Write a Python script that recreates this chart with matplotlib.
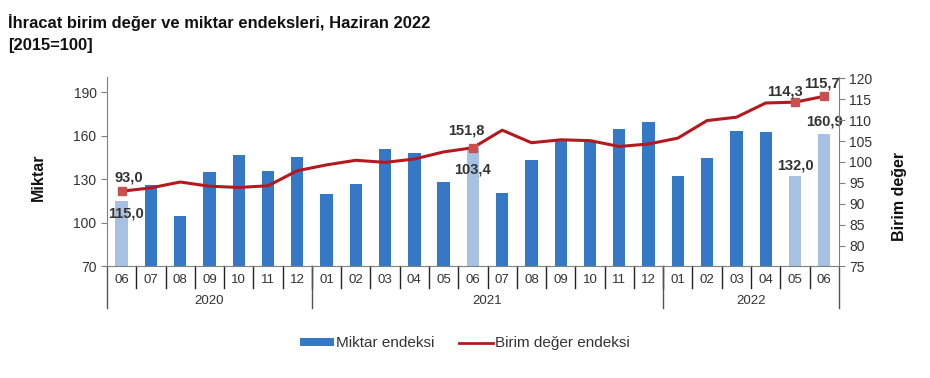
import numpy as np
import matplotlib
matplotlib.use("Agg")
import matplotlib.pyplot as plt
from matplotlib.patches import Patch
from matplotlib.lines import Line2D
import matplotlib.transforms as mtransforms

plt.rcParams['font.family'] = ['Liberation Sans', 'DejaVu Sans']

# data
months = ["06", "07", "08", "09", "10", "11", "12",
          "01", "02", "03", "04", "05", "06", "07", "08", "09", "10", "11", "12",
          "01", "02", "03", "04", "05", "06"]
years = ["2020"] * 7 + ["2021"] * 12 + ["2022"] * 6
miktar = [115.0, 126.2, 104.5, 135.0, 146.8, 135.8, 145.2,
          120.0, 126.7, 150.7, 148.4, 128.3, 151.8, 120.7, 143.2, 157.6, 156.4, 164.4, 169.7,
          131.9, 144.5, 163.0, 162.6, 132.0, 160.9]
birim_deger = [93.0, 93.8, 95.2, 94.2, 93.9, 94.3, 97.9,
               99.3, 100.4, 99.9, 100.7, 102.4, 103.4, 107.6, 104.6, 105.3, 105.1, 103.7, 104.3,
               105.7, 109.9, 110.7, 114.1, 114.3, 115.7]
highlight = [0, 12, 23, 24]

DARK_BLUE = "#3579C6"
LIGHT_BLUE = "#A7C1E5"
LINE_RED = "#B3191F"
MARK_RED = "#C8504F"
TXT = "#333333"

x = np.arange(len(months))
bar_colors = [LIGHT_BLUE if i in highlight else DARK_BLUE for i in x]

fig = plt.figure(figsize=(9.3, 3.78), dpi=100)
ax = fig.add_axes([0.115, 0.295, 0.787, 0.5])
ax2 = ax.twinx()

ax.bar(x, miktar, width=0.42, color=bar_colors, zorder=2)
ax2.plot(x, birim_deger, color=LINE_RED, lw=2.2, zorder=3)
ax2.plot(x[highlight], np.array(birim_deger)[highlight], 's',
         color=MARK_RED, ms=6, zorder=4)

ax.set_xlim(-0.5, len(months) - 0.5)
ax.set_ylim(70, 200)
ax.set_yticks([70, 100, 130, 160, 190])
ax2.set_ylim(75, 120.2)
ax2.set_yticks(range(75, 121, 5))

ax.set_zorder(1)
ax2.set_zorder(2)
ax.patch.set_visible(False)

for a in (ax, ax2):
    a.spines['top'].set_visible(False)
    for s in a.spines.values():
        s.set_color("#808080")
    a.tick_params(axis='y', colors="#808080", labelcolor=TXT, labelsize=10, length=4)
ax.spines['right'].set_visible(False)
ax2.spines['left'].set_visible(False)
ax2.spines['bottom'].set_visible(False)

ax.set_xticks([])
ax.set_xticklabels([])

# category axis: months + years with separators
trans = mtransforms.blended_transform_factory(ax.transData, ax.transAxes)
for i, m in enumerate(months):
    ax.text(i, -0.07, m, transform=trans, ha='center', va='center', fontsize=9.5, color=TXT)
for b in np.arange(0.5, len(months) - 1, 1.0):
    ax.plot([b, b], [0, -0.115], transform=trans, color="#222222", lw=1, clip_on=False)

year_list = ["2020", "2021", "2022"]
for yr in year_list:
    idx = [i for i, y in enumerate(years) if y == yr]
    ax.text(np.mean(idx), -0.18, yr, transform=trans, ha='center', va='center',
            fontsize=9.5, color=TXT)
bounds = [-0.5] + [i - 0.5 for i in range(1, len(years)) if years[i] != years[i - 1]] + [len(years) - 0.5]
for b in bounds:
    ax.plot([b, b], [0, -0.22], transform=trans, color="#555555", lw=1, clip_on=False)

# labels on highlighted points
def lab(a, xi, yi, txt, dx, dy):
    a.annotate(txt, (xi, yi), xytext=(dx, dy), textcoords='offset points',
               ha='center', va='center', fontsize=10.5, fontweight='bold', color=TXT, zorder=6)

lab(ax2, 0, birim_deger[0], "93,0", 5, 10)
lab(ax, 0, miktar[0], "115,0", 3, -9)
lab(ax, 12, miktar[12], "151,8", -5, 12)
lab(ax2, 12, birim_deger[12], "103,4", 0, -16)
lab(ax2, 23, birim_deger[23], "114,3", -7, 8)
lab(ax, 23, miktar[23], "132,0", 0, 8)
lab(ax2, 24, birim_deger[24], "115,7", -2, 9)
lab(ax, 24, miktar[24], "160,9", 0, 9)

ax.set_ylabel("Miktar", fontsize=11.5, fontweight='bold', color="#111111")
ax.yaxis.set_label_coords(-0.083, 0.47)
ax2.set_ylabel("Birim değer", fontsize=11.5, fontweight='bold', color="#111111")
ax2.yaxis.set_label_coords(1.073, 0.37)

fig.text(0.009, 0.94, "İhracat birim değer ve miktar endeksleri, Haziran 2022",
         fontsize=11.9, fontweight='bold', color="#111111", va='center')
fig.text(0.009, 0.88, "[2015=100]", fontsize=11.9, fontweight='bold', color="#111111", va='center')

handles = [Patch(facecolor=DARK_BLUE, label="Miktar endeksi"),
           Line2D([0], [0], color=LINE_RED, lw=2, label="Birim değer endeksi")]
fig.legend(handles=handles, loc='center', bbox_to_anchor=(0.5, 0.092), ncol=2, frameon=False,
           fontsize=11, handlelength=2.2, handleheight=0.4, columnspacing=1.6, handletextpad=0.15,
           labelcolor=TXT)

fig.savefig("out.png", dpi=100)
